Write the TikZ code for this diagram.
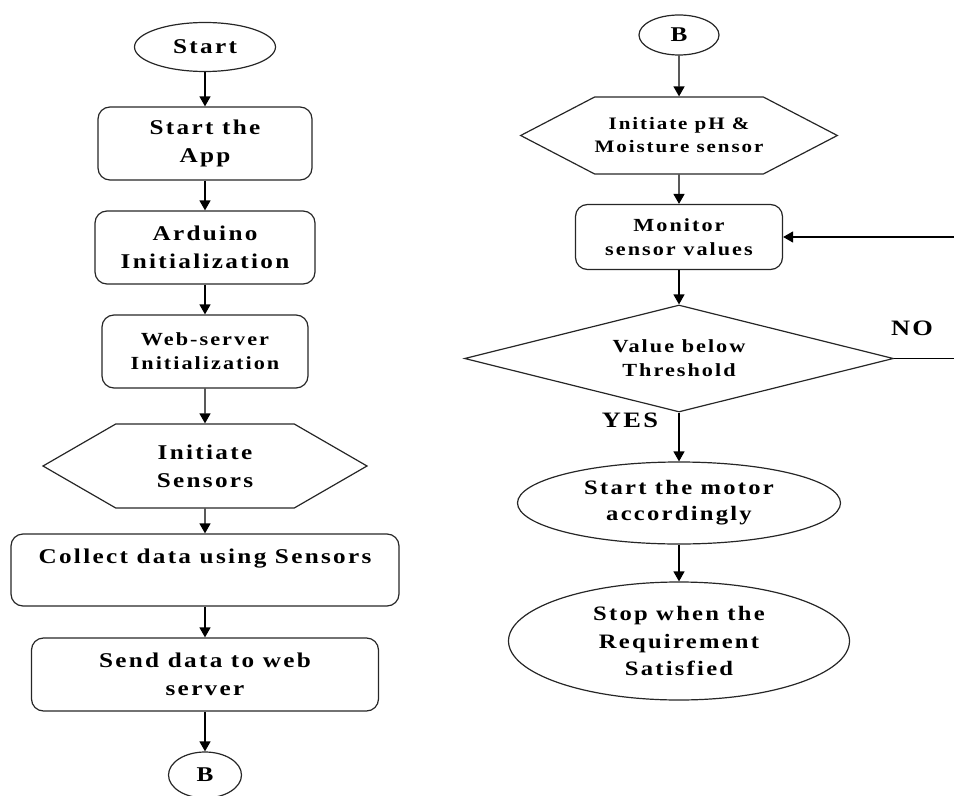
\documentclass[tikz,border=0pt]{standalone}
\usepackage{fontspec}
\newfontfamily\chartfont{Liberation Serif}[FakeStretch=1.2,LetterSpace=11]
\usetikzlibrary{shapes.geometric,shapes.symbols,arrows.meta}
\newcommand{\fs}[2]{\fontsize{#1bp}{#2bp}\selectfont}

\begin{document}
\begin{tikzpicture}[x=1bp,y=-1bp,
    bigtxt/.style={font=\chartfont\bfseries\fs{21}{28}},
    midtxt/.style={font=\chartfont\bfseries\fs{18.5}{24}},
    smalltxt/.style={font=\chartfont\bfseries\fs{17.5}{23}},
    box/.style={draw=black!85, line width=1.2bp, rounded corners=12bp, align=center, inner sep=0pt},
    oval/.style={draw=black!85, line width=1.2bp, ellipse, align=center, inner sep=0pt},
    hexa/.style={draw=black!85, line width=1.2bp, signal, signal to=east and west, align=center, inner sep=0pt},
    choice/.style={draw=black!85, line width=1.2bp, diamond, aspect=4, align=center, inner sep=0pt},
    flow/.style={line width=1.4bp, -{Triangle[length=10bp,width=11bp]}},
    ]
    \useasboundingbox (0,0) rectangle (954,796);
    % left column
    \node[oval, bigtxt, minimum width=141bp, minimum height=49bp] (start) at (205,47) {Start};
    \node[box, bigtxt, minimum width=214bp, minimum height=73bp] (app) at (205,143.5) {Start the\\App};
    \node[box, bigtxt, minimum width=220bp, minimum height=73bp] (ard) at (205,247.5) {Arduino\\Initialization};
    \node[box, midtxt, minimum width=206bp, minimum height=73bp] (web) at (205,351.5) {Web-server\\Initialization};
    \node[hexa, bigtxt, minimum width=324bp, minimum height=84bp, signal pointer angle=60] (sens) at (205,466) {Initiate\\Sensors};
    \node[box, bigtxt, minimum width=388bp, minimum height=72bp] (coll) at (205,570) {Collect data using Sensors\\\mbox{}};
    \node[box, bigtxt, minimum width=347bp, minimum height=73bp] (send) at (205,674.5) {Send data to web\\server};
    \node[oval, bigtxt, minimum width=73bp, minimum height=46bp] (bL) at (205,775) {B};
    \draw[flow] (start) -- (app);
    \draw[flow] (app) -- (ard);
    \draw[flow] (ard) -- (web);
    \draw[flow] (web) -- (sens);
    \draw[flow] (sens) -- (coll);
    \draw[flow] (coll) -- (send);
    \draw[flow] (send) -- (bL);
    % right column
    \node[oval, bigtxt, minimum width=80bp, minimum height=40bp] (bR) at (679,35) {B};
    \node[hexa, smalltxt, minimum width=313bp, minimum height=77bp, signal pointer angle=55] (ph) at (679,135.5) {Initiate pH \&\\Moisture sensor};
    \node[box, midtxt, minimum width=207bp, minimum height=65bp] (mon) at (679,237) {Monitor\\sensor values};
    \node[choice, midtxt, minimum width=429bp, minimum height=107bp] (thr) at (679,358.5) {Value below\\Threshold};
    \node[oval, font=\chartfont\bfseries\fs{20.5}{26}, minimum width=323bp, minimum height=82bp] (mot) at (679,503) {Start the motor\\accordingly};
    \node[oval, font=\chartfont\bfseries\fs{20.5}{27.5}, minimum width=341bp, minimum height=118bp] (stop) at (679,641) {Stop when the\\Requirement\\Satisfied};
    \coordinate (fbin) at (954,237);
    \coordinate (fbout) at (954,358.5);
    \draw[flow] (bR) -- (ph);
    \draw[flow] (ph) -- (mon);
    \draw[flow] (mon) -- (thr);
    \draw[flow] (thr) -- (mot);
    \draw[flow] (mot) -- (stop);
    \draw[flow] (fbin) -- (mon.east);
    \draw[line width=1.4bp] (thr.east) -- (fbout);
    \node[font=\chartfont\bfseries\fs{22}{26}] (no) at (912,328) {NO};
    \node[font=\chartfont\bfseries\fs{22}{26}] (yes) at (630,420) {YES};
\end{tikzpicture}
\end{document}
